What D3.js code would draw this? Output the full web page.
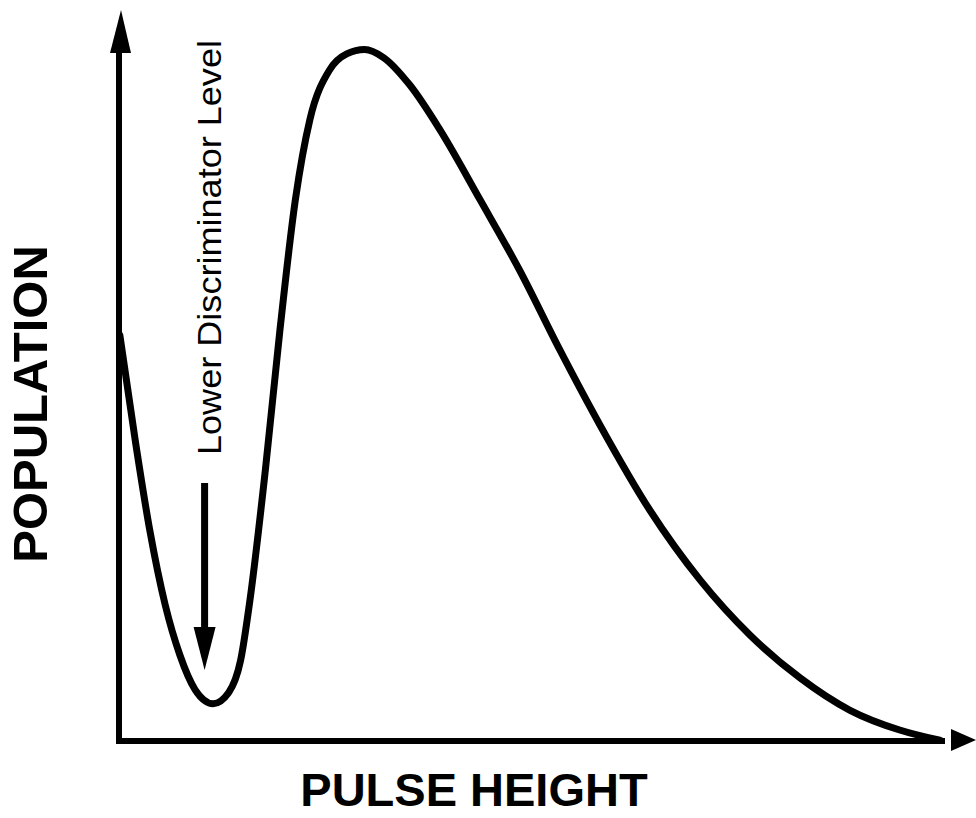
<!DOCTYPE html>
<html>
<head>
<meta charset="utf-8">
<script src="https://cdn.jsdelivr.net/npm/d3@7"></script>
<style>
  html, body { margin: 0; padding: 0; background: #fff; }
  svg { display: block; }
  text { font-family: "Liberation Sans", Arial, Helvetica, sans-serif; fill: #000; }
</style>
</head>
<body>
<svg id="chart" width="976" height="818"></svg>
<script>
// Pulse-height spectrum: pulse height (channel) vs. population (counts, arbitrary units)
const pulseHeight = [1, 19, 36, 54, 71, 89, 110, 128, 142, 153, 171, 188, 206, 223, 246, 266, 287, 309, 340, 375, 422, 468, 515, 562, 620, 679, 737, 796, 854, 912, 959];
const population  = [555, 411, 288, 186, 118, 70, 51, 66, 110, 193, 371, 562, 740, 850, 918, 940, 946, 935, 897, 836, 740, 644, 535, 432, 316, 220, 145, 86, 42, 15, 1];

// Lower discriminator setting (channel) and annotation text
const discriminatorLevel = 100;
const annotationText = "Lower Discriminator Level";
const xTitle = "PULSE HEIGHT";
const yTitle = "POPULATION";

const svg = d3.select("#chart");

const x = d3.scaleLinear().domain([0, 1000]).range([119, 975]);
const y = d3.scaleLinear().domain([0, 1000]).range([741, 10]);

// Axes: plain lines with solid arrowheads, no ticks
const axisW = 6;
const [x0, x1] = x.range();
const [yBottom, yTop] = y.range();

svg.append("line")
  .attr("x1", x0).attr("y1", yBottom + axisW / 2)
  .attr("x2", x0).attr("y2", yTop + 30)
  .attr("stroke", "#000").attr("stroke-width", axisW);
svg.append("path")
  .attr("d", `M${x0 + 2},${yTop} L${x0 + 12},${yTop + 43} L${x0 - 9},${yTop + 43} Z`)
  .attr("fill", "#000");

svg.append("line")
  .attr("x1", x0 - axisW / 2).attr("y1", yBottom)
  .attr("x2", x1 - 30).attr("y2", yBottom)
  .attr("stroke", "#000").attr("stroke-width", axisW);
svg.append("path")
  .attr("d", `M${x1 + 1},${yBottom - 1} L${x1 - 24},${yBottom - 12} L${x1 - 24},${yBottom + 10} Z`)
  .attr("fill", "#000");

// Spectrum curve
const pts = pulseHeight.map((d, i) => [d, population[i]]);
const line = d3.line()
  .x(d => x(d[0]))
  .y(d => y(d[1]))
  .curve(d3.curveMonotoneX);

svg.append("path")
  .datum(pts)
  .attr("d", line)
  .attr("fill", "none")
  .attr("stroke", "#000")
  .attr("stroke-width", 7)
  .attr("stroke-linecap", "round")
  .attr("stroke-linejoin", "round");

// Discriminator annotation: vertical label with a downward arrow
const ax = x(discriminatorLevel);
svg.append("text")
  .attr("transform", `translate(${ax + 16},455) rotate(-90)`)
  .attr("font-size", 33)
  .attr("textLength", 415)
  .attr("lengthAdjust", "spacingAndGlyphs")
  .text(annotationText);

svg.append("line")
  .attr("x1", ax).attr("y1", 483)
  .attr("x2", ax).attr("y2", 632)
  .attr("stroke", "#000").attr("stroke-width", 7);
svg.append("path")
  .attr("d", `M${ax},670 L${ax - 11},627 L${ax + 11},627 Z`)
  .attr("fill", "#000");

// Axis titles
svg.append("text")
  .attr("x", 474).attr("y", 806)
  .attr("text-anchor", "middle")
  .attr("font-size", 47)
  .attr("font-weight", "bold")
  .text(xTitle);

svg.append("text")
  .attr("transform", "translate(47,404) rotate(-90)")
  .attr("text-anchor", "middle")
  .attr("font-size", 49)
  .attr("font-weight", "bold")
  .text(yTitle);
</script>
</body>
</html>
